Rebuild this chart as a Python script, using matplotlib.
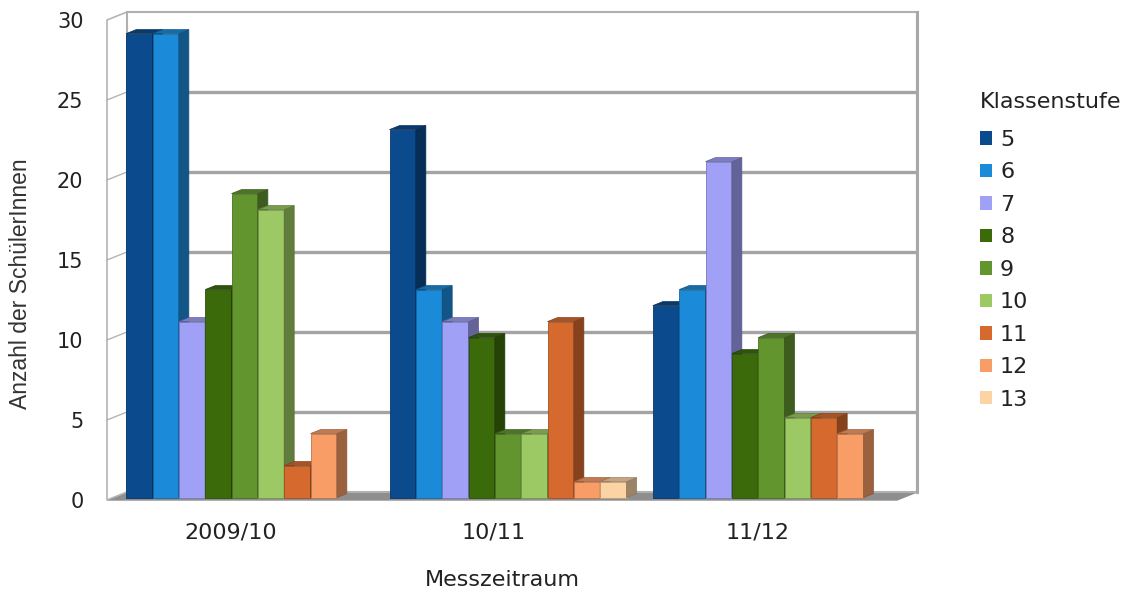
import matplotlib
matplotlib.use("Agg")
import matplotlib.pyplot as plt
from matplotlib.patches import Polygon, Patch
from matplotlib.colors import to_rgb

plt.rcParams['font.family'] = ['DejaVu Sans']

categories = ['2009/10', '10/11', '11/12']
grades = ['5', '6', '7', '8', '9', '10', '11', '12', '13']
counts_0910 = [29, 29, 11, 13, 19, 18, 2, 4, 0]
counts_1011 = [23, 13, 11, 10, 4, 4, 11, 1, 1]
counts_1112 = [12, 13, 21, 9, 10, 5, 5, 4, 0]
grade_colors = ['#0b4a8c', '#1b8bd9', '#a0a0f7', '#3b6a0b', '#63952f',
                '#9cc963', '#d66a2e', '#f99d66', '#fcd3a3']

series = [counts_0910, counts_1011, counts_1112]


def shade(c, f):
    r, g, b = to_rgb(c)
    return (r * f, g * f, b * f)


fig = plt.figure(figsize=(11.31, 5.94), dpi=100)
ax = fig.add_axes([107 / 1131, 94 / 594, 790 / 1131, 480 / 594])
ax.set_xlim(-0.5, 2.5)
ax.set_ylim(0, 30)

# depth of the box (in data units)
DX, DY = 0.076, 0.5
x0, x1 = -0.5, 2.5
ymax = 30

# floor
ax.add_patch(Polygon([(x0, 0), (x1, 0), (x1 + DX, DY), (x0 + DX, DY)],
                     closed=True, facecolor='#8e8e8e', edgecolor='#8e8e8e',
                     lw=1, clip_on=False, zorder=1))
# left wall
ax.add_patch(Polygon([(x0, 0), (x0 + DX, DY), (x0 + DX, ymax + DY), (x0, ymax)],
                     closed=True, facecolor='white', edgecolor='#b4b4b4',
                     lw=1.2, clip_on=False, zorder=1))
# back wall
ax.add_patch(Polygon([(x0 + DX, DY), (x1 + DX, DY), (x1 + DX, ymax + DY), (x0 + DX, ymax + DY)],
                     closed=True, facecolor='white', edgecolor='#b0b0b0',
                     lw=1.5, clip_on=False, zorder=1))
for yv in range(5, 30, 5):
    ax.plot([x0 + DX, x1 + DX], [yv + DY, yv + DY], color='#a4a4a4', lw=2.4,
            clip_on=False, zorder=1.5, solid_capstyle='butt')
    ax.plot([x0, x0 + DX], [yv, yv + DY], color='#b4b4b4', lw=1.0,
            clip_on=False, zorder=1.5)
ax.plot([x1 + DX, x1 + DX], [DY, ymax + DY], color='#a8a8a8', lw=2.2,
        clip_on=False, zorder=1.6)

# bars: front face sits a bit inside the box, with its own small depth
bw = 0.1
fx, fy = 0.3 * DX, 0.3 * DY
bx, by = 0.038, 0.25
z = 2
for ci, vals in enumerate(series):
    for gi, v in enumerate(vals):
        if v <= 0:
            continue
        col = grade_colors[gi]
        left = ci - 0.45 + gi * bw + fx
        right = left + bw
        top = fy + v
        ax.bar(left, v, width=bw, bottom=fy, align='edge', color=col,
               edgecolor=shade(col, 0.75), linewidth=0.6, zorder=z)
        ax.add_patch(Polygon([(right, fy), (right + bx, fy + by),
                              (right + bx, top + by), (right, top)],
                             closed=True, facecolor=shade(col, 0.62),
                             edgecolor=shade(col, 0.55), lw=0.5, zorder=z))
        ax.add_patch(Polygon([(left, top), (right, top),
                              (right + bx, top + by), (left + bx, top + by)],
                             closed=True, facecolor=shade(col, 0.78),
                             edgecolor=shade(col, 0.6), lw=0.5, zorder=z + 0.1,
                             clip_on=False))
        z += 0.2

for s in ax.spines.values():
    s.set_visible(False)
ax.set_facecolor('none')
ax.set_xticks([c - 0.03 for c in range(len(categories))])
ax.set_xticklabels(categories, fontsize=16, color='#222222')
ax.set_yticks(range(0, 31, 5))
ax.tick_params(axis='both', length=0, labelcolor='#222222')
ax.tick_params(axis='x', pad=16, labelsize=16)
ax.tick_params(axis='y', pad=17, labelsize=15)

ax.set_xlabel('Messzeitraum', fontsize=16, color='#222222', labelpad=20)
ax.set_ylabel('Anzahl der SchülerInnen', fontsize=16.5, color='#333333',
              family='Liberation Sans')
ax.yaxis.set_label_coords(-0.095, 0.45)

handles = [Patch(facecolor=c, edgecolor='none') for c in grade_colors]
leg = fig.legend(handles, grades, title='Klassenstufe', loc='upper left',
                 bbox_to_anchor=(960 / 1131, 1 - 72 / 594), frameon=False,
                 alignment='left', fontsize=16, title_fontsize=16,
                 handlelength=0.55, handleheight=0.55, handletextpad=0.35,
                 labelspacing=0.56)
leg._legend_box.sep = 13
for t in leg.get_texts():
    t.set_color('#222222')
leg.get_title().set_color('#222222')

fig.savefig('out.png', dpi=100, facecolor='white')
